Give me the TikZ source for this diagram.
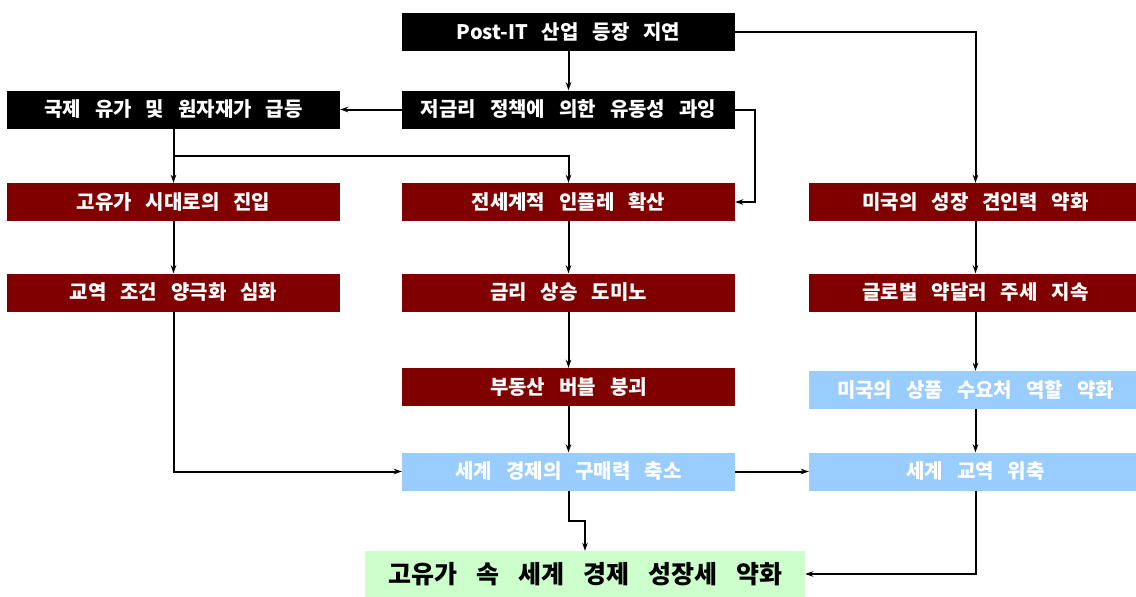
\documentclass[tikz,border=0pt]{standalone}
\usepackage{fontspec}
\newfontfamily\kr{Noto Sans CJK KR}
\usetikzlibrary{arrows.meta}
\definecolor{dred}{HTML}{800000}
\definecolor{lblue}{HTML}{99CCFF}
\definecolor{lgreen}{HTML}{CCFFCC}
\newcommand\boxfont{\kr\bfseries\fontsize{20pt}{22pt}\selectfont\spaceskip 14pt\relax}
\newcommand\bigfont{\kr\bfseries\fontsize{25pt}{27pt}\selectfont\spaceskip 19pt\relax}
\begin{document}
\begin{tikzpicture}[x=1pt,y=-1pt,
  base/.style={rectangle, minimum width=333pt, minimum height=38pt, inner sep=0pt,
    text=white, font=\boxfont},
  blk/.style={base, fill=black},
  rbox/.style={base, fill=dred},
  bbox/.style={base, fill=lblue},
  gbox/.style={base, fill=lgreen, text=black, minimum width=440pt, minimum height=46pt,
    font=\bigfont},
  ln/.style={line width=2pt, draw=black},
  arr/.style={ln, -{Stealth[length=8pt,width=5.5pt]}}]
\useasboundingbox (0,0) rectangle (1136,597);
\fill[white] (0,0) rectangle (1136,597);
\node[blk] (post) at (568.5,32) {Post-IT 산업 등장 지연};
\node[blk] (low) at (568.5,109.5) {저금리 정책에 의한 유동성 과잉};
\node[blk] (oil) at (173.5,109.5) {국제 유가 및 원자재가 급등};
\node[rbox] (hi) at (173.5,202) {고유가 시대로의 진입};
\node[rbox] (infl) at (568.5,202) {전세계적 인플레 확산};
\node[rbox] (usg) at (975.5,202) {미국의 성장 견인력 약화};
\node[rbox] (tot) at (173.5,292.5) {교역 조건 양극화 심화};
\node[rbox] (rate) at (568.5,292.5) {금리 상승 도미노};
\node[rbox] (dollar) at (975.5,292.5) {글로벌 약달러 주세 지속};
\node[rbox] (bubble) at (568.5,387) {부동산 버블 붕괴};
\node[bbox] (usdem) at (975.5,390) {미국의 상품 수요처 역할 약화};
\node[bbox] (purch) at (568.5,471.5) {세계 경제의 구매력 축소};
\node[bbox] (trade) at (975.5,471.5) {세계 교역 위축};
\node[gbox] (final) at (585,574) {고유가 속 세계 경제 성장세 약화};
\coordinate (br) at (173.5,156);
\draw[arr] (post) -- (low);
\draw[arr] (low) -- (oil);
\draw[arr] (oil) -- (hi);
\draw[arr] (br) -| (infl.north);
\draw[arr] (low.east) -- ++(20,0) |- (infl.east);
\draw[arr] (post.east) -| (usg.north);
\draw[arr] (hi) -- (tot);
\draw[arr] (infl) -- (rate);
\draw[arr] (usg) -- (dollar);
\draw[arr] (rate) -- (bubble);
\draw[arr] (dollar) -- (usdem);
\draw[arr] (tot.south) |- (purch.west);
\draw[arr] (bubble) -- (purch);
\draw[arr] (usdem) -- (trade);
\draw[arr] (purch) -- (trade);
\draw[arr] (purch.south) -- ++(0,30) -| (final.north);
\draw[arr] (trade.south) |- (final.east);
\end{tikzpicture}
\end{document}
